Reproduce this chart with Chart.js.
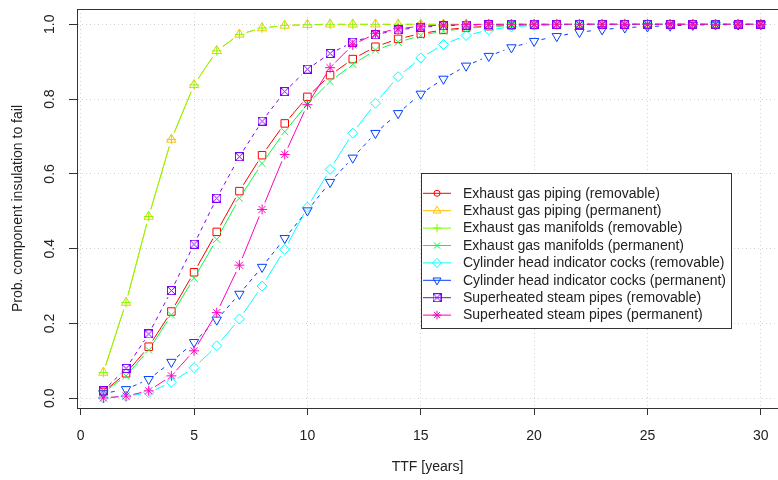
<!DOCTYPE html>
<html>
<head>
<meta charset="utf-8">
<title>Insulation failure probability</title>
<script src="https://cdn.jsdelivr.net/npm/chart.js@4.4.1/dist/chart.umd.min.js"></script>
<style>
  html, body { margin: 0; padding: 0; background: #fff; overflow: hidden; }
  #wrap { width: 778px; height: 480px; }
</style>
</head>
<body>
<div id="wrap"><canvas id="ttfChart" width="778" height="480"></canvas></div>
<script>
/* ---- data ---- */
var years = [1, 2, 3, 4, 5, 6, 7, 8, 9, 10, 11, 12, 13, 14, 15,
             16, 17, 18, 19, 20, 21, 22, 23, 24, 25, 26, 27, 28, 29, 30];

var pipingRemovable    = [0.017, 0.067, 0.138, 0.232, 0.337, 0.445, 0.554, 0.650, 0.735, 0.806,
                          0.864, 0.907, 0.940, 0.961, 0.975, 0.985, 0.991, 0.995, 0.997, 0.998,
                          0.999, 1, 1, 1, 1, 1, 1, 1, 1, 1];
var pipingPermanent    = [0.069, 0.256, 0.486, 0.692, 0.838, 0.929, 0.973, 0.990, 0.997, 0.999,
                          1, 1, 1, 1, 1, 1, 1, 1, 1, 1,
                          1, 1, 1, 1, 1, 1, 1, 1, 1, 1];
var manifoldsRemovable = [0.069, 0.256, 0.486, 0.692, 0.838, 0.929, 0.973, 0.990, 0.997, 0.999,
                          1, 1, 1, 1, 1, 1, 1, 1, 1, 1,
                          1, 1, 1, 1, 1, 1, 1, 1, 1, 1];
var manifoldsPermanent = [0.015, 0.060, 0.129, 0.223, 0.321, 0.425, 0.535, 0.628, 0.713, 0.787,
                          0.847, 0.893, 0.931, 0.952, 0.970, 0.982, 0.989, 0.994, 0.997, 0.998,
                          0.999, 1, 1, 1, 1, 1, 1, 1, 1, 1];
var cocksRemovable     = [0.001, 0.005, 0.015, 0.043, 0.082, 0.140, 0.212, 0.300, 0.398, 0.511,
                          0.612, 0.709, 0.789, 0.860, 0.910, 0.946, 0.970, 0.985, 0.993, 0.997,
                          0.999, 1, 1, 1, 1, 1, 1, 1, 1, 1];
var cocksPermanent     = [0.013, 0.024, 0.051, 0.097, 0.150, 0.210, 0.279, 0.351, 0.428, 0.502,
                          0.578, 0.643, 0.709, 0.762, 0.814, 0.854, 0.889, 0.915, 0.938, 0.955,
                          0.968, 0.979, 0.986, 0.991, 0.994, 0.996, 0.998, 0.999, 0.999, 1];
var steamRemovable     = [0.020, 0.080, 0.172, 0.288, 0.412, 0.535, 0.646, 0.741, 0.820, 0.880,
                          0.922, 0.952, 0.972, 0.985, 0.992, 0.996, 0.998, 0.999, 1, 1,
                          1, 1, 1, 1, 1, 1, 1, 1, 1, 1];
var steamPermanent     = [0.001, 0.006, 0.020, 0.060, 0.127, 0.229, 0.356, 0.505, 0.652, 0.785,
                          0.884, 0.945, 0.975, 0.988, 0.995, 0.998, 0.999, 1, 1, 1,
                          1, 1, 1, 1, 1, 1, 1, 1, 1, 1];

var seriesNames = [
  'Exhaust gas piping (removable)',
  'Exhaust gas piping (permanent)',
  'Exhaust gas manifolds (removable)',
  'Exhaust gas manifolds (permanent)',
  'Cylinder head indicator cocks (removable)',
  'Cylinder head indicator cocks (permanent)',
  'Superheated steam pipes (removable)',
  'Superheated steam pipes (permanent)'
];
var seriesValues = [pipingRemovable, pipingPermanent, manifoldsRemovable, manifoldsPermanent,
                    cocksRemovable, cocksPermanent, steamRemovable, steamPermanent];

var xTicks = [0, 5, 10, 15, 20, 25, 30];
var yTicks = [0, 0.2, 0.4, 0.6, 0.8, 1.0];
var yTickLabels = ['0.0', '0.2', '0.4', '0.6', '0.8', '1.0'];

/* ---- styles: R rainbow(8), pch and lty per series ---- */
var COLORS = ['#FF0000', '#FFBF00', '#80FF00', '#00FF40', '#00FFFF', '#0040FF', '#8000FF', '#FF00BF'];
var DASHES = [[], [], [], [], [], [4, 4], [4, 4], []];
var FONT = '"Liberation Sans", Arial, sans-serif';
var TEXT = '#222';
var GAP = 7.5; // type="b": the line stops short of each marker

// dash pattern for one segment, leaving a gap at both ends (like R's type="b")
function gapDash(base) {
  return function (ctx) {
    var dx = ctx.p1.x - ctx.p0.x, dy = ctx.p1.y - ctx.p0.y;
    var len = Math.sqrt(dx * dx + dy * dy);
    var inner = len - 2 * GAP;
    if (inner <= 0) return [0, len + 1];
    if (!base.length) return [0, GAP, inner, GAP];
    var out = [0, GAP], used = 0;
    while (used < inner - 0.01) {
      var on = Math.min(base[0], inner - used);
      used += on;
      var off = Math.min(base[1], inner - used);
      used += off;
      out.push(on, off);
    }
    out[out.length - 1] += GAP;
    return out;
  };
}

// pch 7: square with a cross inside
function boxCross(color) {
  var c = document.createElement('canvas');
  c.width = 9; c.height = 9;
  var g = c.getContext('2d');
  g.strokeStyle = color; g.lineWidth = 1;
  g.strokeRect(0.5, 0.5, 8, 8);
  g.beginPath();
  g.moveTo(0.5, 0.5); g.lineTo(8.5, 8.5);
  g.moveTo(8.5, 0.5); g.lineTo(0.5, 8.5);
  g.stroke();
  return c;
}

var MARKS = [
  { style: 'rect', r: 5.3, rot: 0 },
  { style: 'triangle', r: 5.4, rot: 0 },
  { style: 'cross', r: 4.8, rot: 0 },
  { style: 'crossRot', r: 5, rot: 0 },
  { style: 'rectRot', r: 5, rot: 0 },
  { style: 'triangle', r: 5.4, rot: 180 },
  { style: boxCross(COLORS[6]), r: 5, rot: 0 },
  { style: 'star', r: 5, rot: 0 }
];
// the legend shows a small circle for the first series
var LEGEND_MARKS = [
  { style: 'circle', r: 3, rot: 0 },
  { style: 'triangle', r: 4.6, rot: 0 },
  { style: 'cross', r: 4.3, rot: 0 },
  { style: 'crossRot', r: 4.5, rot: 0 },
  { style: 'rectRot', r: 4.5, rot: 0 },
  { style: 'triangle', r: 4.6, rot: 180 },
  { style: MARKS[6].style, r: 4.5, rot: 0 },
  { style: 'star', r: 4.3, rot: 0 }
];

var datasets = seriesNames.map(function (name, i) {
  return {
    label: name,
    data: years.map(function (t, k) { return { x: t, y: seriesValues[i][k] }; }),
    borderColor: COLORS[i],
    borderWidth: 1,
    segment: { borderDash: gapDash(DASHES[i]) },
    pointStyle: MARKS[i].style,
    pointRadius: MARKS[i].r,
    pointHoverRadius: MARKS[i].r,
    pointRotation: MARKS[i].rot,
    pointBorderColor: COLORS[i],
    pointBackgroundColor: 'rgba(0,0,0,0)',
    pointBorderWidth: 1,
    tension: 0,
    fill: false,
    order: 8 - i
  };
});

/* ---- frame top, rotated y labels and boxed legend (R look) ---- */
var rDecor = {
  id: 'rDecor',
  afterDraw: function (chart) {
    var ctx = chart.ctx, area = chart.chartArea, ys = chart.scales.y;
    ctx.save();

    ctx.strokeStyle = '#333';
    ctx.lineWidth = 1;
    ctx.beginPath();
    ctx.moveTo(Math.round(area.left) + 0.5, Math.round(area.top) + 0.5);
    ctx.lineTo(area.right, Math.round(area.top) + 0.5);
    ctx.stroke();

    ctx.fillStyle = TEXT;
    ctx.font = '14px ' + FONT;
    ctx.textAlign = 'center';
    ctx.textBaseline = 'middle';
    yTicks.forEach(function (v, k) {
      ctx.save();
      ctx.translate(50, ys.getPixelForValue(v));
      ctx.rotate(-Math.PI / 2);
      ctx.fillText(yTickLabels[k], 0, 0);
      ctx.restore();
    });

    // legend
    var bx = 421.5, by = 173.5, bw = 310, bh = 155, rowH = 17.4, firstRow = 193.3;
    ctx.fillStyle = '#fff';
    ctx.fillRect(bx, by, bw, bh);
    ctx.strokeStyle = '#333';
    ctx.strokeRect(bx, by, bw, bh);
    ctx.font = '14px ' + FONT;
    ctx.textAlign = 'left';
    ctx.textBaseline = 'middle';
    chart.data.datasets.forEach(function (ds, i) {
      var ry = firstRow + i * rowH;
      ctx.strokeStyle = ds.borderColor;
      ctx.lineWidth = 1;
      ctx.setLineDash([]);
      ctx.beginPath();
      ctx.moveTo(423, ry); ctx.lineTo(451, ry);
      ctx.stroke();
      ctx.fillStyle = 'rgba(0,0,0,0)';
      var m = LEGEND_MARKS[i];
      if (Chart.helpers && Chart.helpers.drawPoint) {
        Chart.helpers.drawPoint(ctx, { pointStyle: m.style, radius: m.r, rotation: m.rot, borderWidth: 1 }, 437, ry);
      }
      ctx.fillStyle = TEXT;
      ctx.fillText(ds.label, 463, ry + 0.5);
    });

    ctx.restore();
  }
};

new Chart(document.getElementById('ttfChart'), {
  type: 'line',
  data: { datasets: datasets },
  plugins: [rDecor],
  options: {
    responsive: false,
    animation: false,
    devicePixelRatio: 1,
    layout: { autoPadding: false, padding: { top: 9, right: 0, bottom: 0, left: 0 } },
    plugins: { legend: { display: false }, tooltip: { enabled: false } },
    scales: {
      x: {
        type: 'linear',
        min: -0.163,
        max: 30.757,
        afterBuildTicks: function (scale) {
          scale.ticks = xTicks.map(function (v) { return { value: v }; });
        },
        afterFit: function (scale) { scale.height = 72; },
        // padding 0 keeps the chart area out to the right edge; the tall line height moves the labels down
        ticks: { color: TEXT, font: { family: FONT, size: 14, lineHeight: 3 }, padding: 0, maxRotation: 0, autoSkip: false },
        grid: { color: '#d3d3d3', tickColor: '#333', tickLength: 7, tickWidth: 1, tickBorderDash: [] },
        border: { display: true, color: '#333', width: 1, dash: [1, 3] },
        title: { display: true, text: 'TTF [years]', color: TEXT, font: { family: FONT, size: 14 }, padding: { top: 0, bottom: 4 } }
      },
      y: {
        type: 'linear',
        min: -0.0259,
        max: 1.0409,
        afterBuildTicks: function (scale) {
          scale.ticks = yTicks.map(function (v) { return { value: v }; });
        },
        afterFit: function (scale) { scale.width = 77; },
        ticks: { display: false },
        grid: { color: '#d3d3d3', tickColor: '#333', tickLength: 8, tickWidth: 1, tickBorderDash: [] },
        border: { display: true, color: '#333', width: 1, dash: [1, 3] },
        title: { display: true, text: 'Prob. component insulation to fail', color: TEXT, font: { family: FONT, size: 14 }, padding: { top: 10, bottom: 0 } }
      }
    }
  }
});
</script>
</body>
</html>
